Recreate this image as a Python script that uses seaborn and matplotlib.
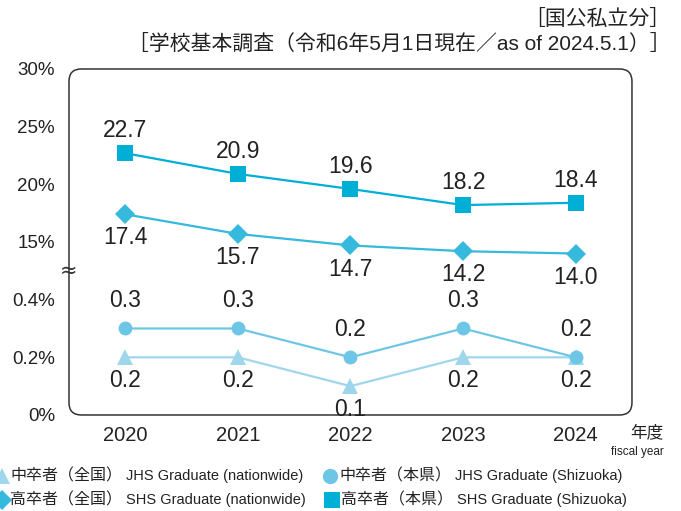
import numpy as np
import pandas as pd
import matplotlib
matplotlib.use('Agg')
import matplotlib.pyplot as plt
import seaborn as sns
from matplotlib.patches import FancyBboxPatch
from matplotlib.lines import Line2D
import matplotlib.transforms as mtransforms

sns.set_style('white')
plt.rcParams['font.family'] = ['Liberation Sans', 'Noto Sans CJK JP']

# データ
years = [2020, 2021, 2022, 2023, 2024]
jhs_nation = [0.2, 0.2, 0.1, 0.2, 0.2]
jhs_shizuoka = [0.3, 0.3, 0.2, 0.3, 0.2]
shs_nation = [17.4, 15.7, 14.7, 14.2, 14.0]
shs_shizuoka = [22.7, 20.9, 19.6, 18.2, 18.4]
ytick_vals = [0, 0.2, 0.4, 15, 20, 25, 30]
ytick_labels = ['0%', '0.2%', '0.4%', '15%', '20%', '25%', '30%']

labels_jp = ['中卒者（全国）', '高卒者（全国）', '中卒者（本県）', '高卒者（本県）']
labels_en = ['JHS Graduate (nationwide)', 'SHS Graduate (nationwide)',
             'JHS Graduate (Shizuoka)', 'SHS Graduate (Shizuoka)']

c_tri = '#A0D6EC'
c_circ = '#6EC6E6'
c_dia = '#35B9DD'
c_sq = '#00AFD5'
txt = '#222222'


# 省略軸 (0-0.5 と 13-30 をつなぐ)
def fwd(v):
    v = np.asarray(v, dtype=float)
    low = v / 0.2
    mid = 2.5 + (v - 0.5) / 12.5 * 0.1
    high = 3 + (v - 15) / 5
    return np.where(v <= 0.5, low, np.where(v < 13, mid, high))


def inv(y):
    y = np.asarray(y, dtype=float)
    low = y * 0.2
    mid = 0.5 + (y - 2.5) / 0.1 * 12.5
    high = 15 + (y - 3) * 5
    return np.where(y <= 2.5, low, np.where(y < 2.6, mid, high))


fig = plt.figure(figsize=(6.81, 5.11), dpi=100)
ax = fig.add_axes([0.1013, 0.1879, 0.8267, 0.6771])

series = [
    (jhs_nation, c_tri, '^', 11, -17),
    (jhs_shizuoka, c_circ, 'o', 10, 20),
    (shs_nation, c_dia, 'D', 10, -17),
    (shs_shizuoka, c_sq, 's', 12, 16),
]
for vals, col, mk, ms, dy in series:
    df = pd.DataFrame({'year': years, 'value': vals})
    sns.lineplot(data=df, x='year', y='value', ax=ax, color=col, marker=mk,
                 markersize=ms, markeredgewidth=0, linewidth=1.6)
    for x, v in zip(years, vals):
        ax.annotate(f'{v:.1f}', (x, v), xytext=(0, dy), textcoords='offset points',
                    ha='center', va='center', fontsize=16.5, color=txt)

ax.set_yscale('function', functions=(fwd, inv))
ax.set_ylim(0, 30)
ax.set_xlim(2019.5, 2024.5)
ax.set_yticks(ytick_vals)
ax.set_yticklabels(ytick_labels, fontsize=13.5, color=txt)
ax.set_xticks(years)
ax.set_xticklabels([str(y) for y in years], fontsize=14.5, color=txt)
ax.set_xticks([2020.5, 2021.5, 2022.5, 2023.5], minor=True)
ax.tick_params(axis='x', which='major', length=0, pad=8)
ax.tick_params(axis='x', which='minor', direction='in', length=8, width=1, color='#333333')
ax.tick_params(axis='y', direction='in', length=8, width=1, color='#333333', pad=10)
ax.set_xlabel('')
ax.set_ylabel('')
for s in ax.spines.values():
    s.set_visible(False)

# 角丸の枠
frame = FancyBboxPatch((0, 0), 1, 1, boxstyle='round,pad=0,rounding_size=0.022',
                       mutation_aspect=563 / 346, transform=ax.transAxes,
                       facecolor='none', edgecolor='#333333', linewidth=1.1,
                       clip_on=False, zorder=0.5)
ax.add_patch(frame)

# 省略記号
trans = mtransforms.blended_transform_factory(ax.transAxes, ax.transData)
ax.text(0, 0.5, '≈', transform=trans, ha='center', va='center', fontsize=15,
        color='#333333', family='DejaVu Sans', clip_on=False)

# 見出し
fig.text(0.985, 0.963, '［国公私立分］', ha='right', va='center', fontsize=15, color=txt)
fig.text(0.985, 0.914, '［学校基本調査（令和6年5月1日現在／as of 2024.5.1）］',
         ha='right', va='center', fontsize=15, color=txt)

fig.text(0.974, 0.154, '年度', ha='right', va='center', fontsize=12, color=txt)
fig.text(0.974, 0.115, 'fiscal year', ha='right', va='center', fontsize=8.5, color=txt)

# 凡例
W, H = 681, 511
leg = [
    (c_tri, '^', 12, 2, 476, 10),
    (c_dia, 'D', 10, 2, 500, 10),
    (c_circ, 'o', 11, 330, 476, 339),
    (c_sq, 's', 11, 332, 500, 341),
]
for (col, mk, ms, mx, my, tx), jp, en in zip(leg, labels_jp, labels_en):
    fig.add_artist(Line2D([mx / W], [1 - my / H], transform=fig.transFigure, color=col,
                          marker=mk, markersize=ms, markeredgewidth=0, linestyle='none'))
    t = fig.text(tx / W, 1 - my / H, jp, ha='left', va='center', fontsize=11.5, color=txt)
    ax.annotate(en, xy=(1, 0.5), xycoords=t, xytext=(3, 0), textcoords='offset points',
                ha='left', va='center', fontsize=10.5, color=txt, annotation_clip=False)

fig.savefig('out.png', dpi=100)
